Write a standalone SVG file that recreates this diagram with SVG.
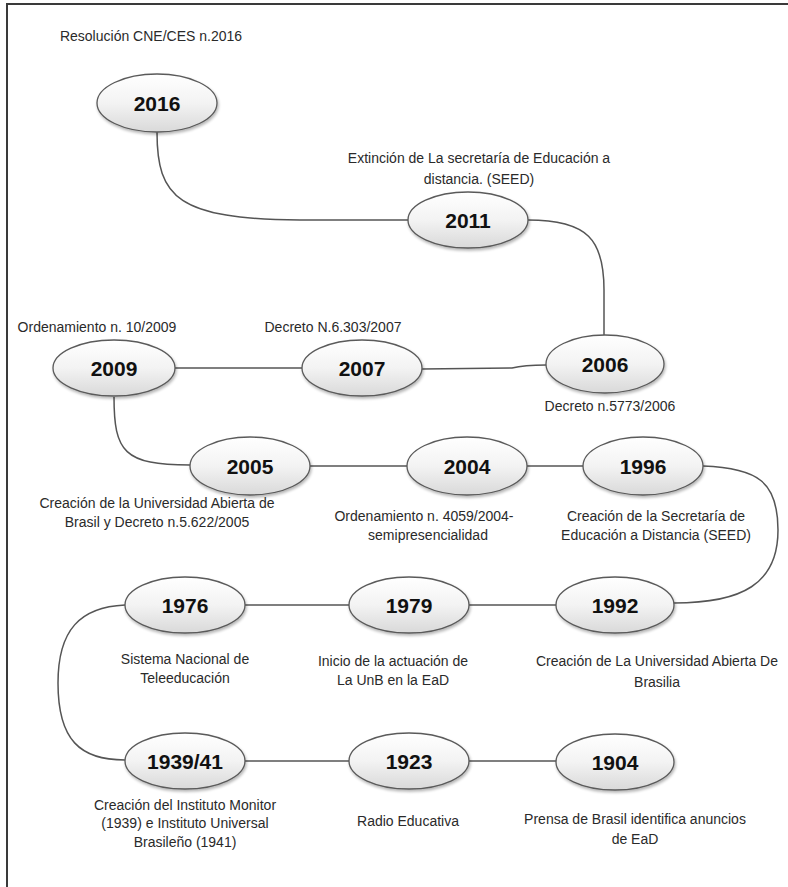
<svg xmlns="http://www.w3.org/2000/svg" width="788" height="887" viewBox="0 0 788 887">
<defs>
<linearGradient id="g" x1="0" y1="0" x2="0" y2="1">
<stop offset="0" stop-color="#ffffff"/>
<stop offset="0.5" stop-color="#f3f3f3"/>
<stop offset="1" stop-color="#d9d9d9"/>
</linearGradient>
<filter id="sh" x="-20%" y="-20%" width="140%" height="150%">
<feGaussianBlur in="SourceAlpha" stdDeviation="1.5"/>
<feOffset dx="1" dy="2" result="b"/>
<feComponentTransfer><feFuncA type="linear" slope="0.3"/></feComponentTransfer>
<feMerge><feMergeNode/><feMergeNode in="SourceGraphic"/></feMerge>
</filter>
</defs>
<style>
.n ellipse{fill:url(#g);stroke:#5a5a5a;stroke-width:1.3;filter:url(#sh)}
.y{font-family:"Liberation Sans",Arial,sans-serif;font-weight:bold;font-size:21px;fill:#111;text-anchor:middle}
.l{font-family:"Liberation Sans",Arial,sans-serif;font-size:14px;fill:#2a2a2a;text-anchor:middle}
#connectors path{fill:none;stroke:#555;stroke-width:1.5}
</style>
<rect width="788" height="887" fill="#fff"/>
<path d="M7,887 L7,4 L788,4" fill="none" stroke="#3a3a3a" stroke-width="2"/>
<g id="connectors">
<path d="M157,132 C157,198 178,219 300,220 L408,220"/>
<path d="M528,220 C588,220 604,240 604,290 L604,335"/>
<path d="M175,368 L302,368"/>
<path d="M422,369 L512,368 Q524,365 546,365"/>
<path d="M114,397 C114,452 124,465 190,465"/>
<path d="M310,466 L408,466"/>
<path d="M527,466 L584,466"/>
<path d="M703,466 C758,468 778,482 778,530 C778,584 742,603 674,603"/>
<path d="M556,605 L469,605"/>
<path d="M349,605 L245,605"/>
<path d="M125,605 C80,607 58,630 58,683 C58,740 80,760 125,760"/>
<path d="M245,761 L349,761"/>
<path d="M469,761 L556,761"/>
</g>
<g id="n2016" class="n"><ellipse cx="157" cy="103" rx="60" ry="29"/><text class="y" x="157" y="111">2016</text><text class="l" x="151" y="41">Resolución CNE/CES n.2016</text></g>
<g id="n2011" class="n"><ellipse cx="468" cy="220" rx="60" ry="28"/><text class="y" x="468" y="228">2011</text><text class="l" x="479" y="163">Extinción de La secretaría de Educación a</text><text class="l" x="479" y="184">distancia. (SEED)</text></g>
<g id="n2006" class="n"><ellipse cx="605" cy="364" rx="59" ry="29"/><text class="y" x="605" y="372">2006</text><text class="l" x="610" y="411">Decreto n.5773/2006</text></g>
<g id="n2009" class="n"><ellipse cx="114" cy="368" rx="61" ry="28"/><text class="y" x="114" y="376">2009</text><text class="l" x="97" y="332">Ordenamiento n. 10/2009</text></g>
<g id="n2007" class="n"><ellipse cx="362" cy="368" rx="60" ry="28"/><text class="y" x="362" y="376">2007</text><text class="l" x="333" y="332">Decreto N.6.303/2007</text></g>
<g id="n2005" class="n"><ellipse cx="250" cy="466" rx="60" ry="29"/><text class="y" x="250" y="474">2005</text><text class="l" x="157" y="508">Creación de la Universidad Abierta de</text><text class="l" x="157" y="527">Brasil y Decreto n.5.622/2005</text></g>
<g id="n2004" class="n"><ellipse cx="467" cy="466" rx="60" ry="29"/><text class="y" x="467" y="474">2004</text><text class="l" x="424" y="521">Ordenamiento n. 4059/2004-</text><text class="l" x="428" y="540">semipresencialidad</text></g>
<g id="n1996" class="n"><ellipse cx="643" cy="466" rx="60" ry="29"/><text class="y" x="643" y="474">1996</text><text class="l" x="656" y="521">Creación de la Secretaría de</text><text class="l" x="656" y="540">Educación a Distancia (SEED)</text></g>
<g id="n1992" class="n"><ellipse cx="615" cy="605" rx="59" ry="28"/><text class="y" x="615" y="613">1992</text><text class="l" x="657" y="666">Creación de La Universidad Abierta De</text><text class="l" x="657" y="687">Brasilia</text></g>
<g id="n1979" class="n"><ellipse cx="409" cy="605" rx="60" ry="28"/><text class="y" x="409" y="613">1979</text><text class="l" x="393" y="666">Inicio de la actuación de</text><text class="l" x="393" y="685">La UnB en la EaD</text></g>
<g id="n1976" class="n"><ellipse cx="185" cy="605" rx="60" ry="28"/><text class="y" x="185" y="613">1976</text><text class="l" x="185" y="664">Sistema Nacional de</text><text class="l" x="185" y="683">Teleeducación</text></g>
<g id="n1939" class="n"><ellipse cx="185" cy="761" rx="60" ry="28"/><text class="y" x="185" y="769">1939/41</text><text class="l" x="185" y="810">Creación del Instituto Monitor</text><text class="l" x="185" y="828">(1939) e Instituto Universal</text><text class="l" x="185" y="847">Brasileño (1941)</text></g>
<g id="n1923" class="n"><ellipse cx="409" cy="761" rx="60" ry="28"/><text class="y" x="409" y="769">1923</text><text class="l" x="408" y="826">Radio Educativa</text></g>
<g id="n1904" class="n"><ellipse cx="615" cy="762" rx="59" ry="28"/><text class="y" x="615" y="770">1904</text><text class="l" x="635" y="824">Prensa de Brasil identifica anuncios</text><text class="l" x="635" y="844">de EaD</text></g>
</svg>
